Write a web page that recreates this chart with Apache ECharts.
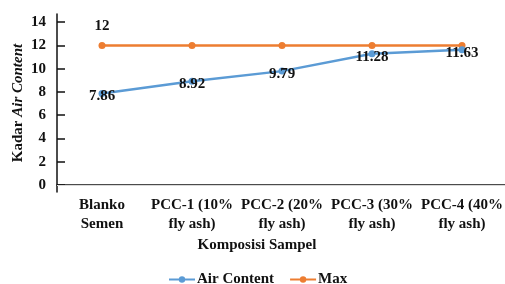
<!DOCTYPE html>
<html>
<head>
<meta charset="utf-8">
<script src="https://cdn.jsdelivr.net/npm/echarts@6/dist/echarts.min.js"></script>
<style>
html, body { margin: 0; padding: 0; background: #fff; }
#chart { width: 505px; height: 284px; }
</style>
</head>
<body>
<div id="chart"></div>
<script>
// data
var categories = ["Blanko\nSemen", "PCC-1 (10%\nfly ash)", "PCC-2 (20%\nfly ash)", "PCC-3 (30%\nfly ash)", "PCC-4 (40%\nfly ash)"];
var airContent = [7.86, 8.92, 9.79, 11.28, 11.63];
var maxValues = [12, 12, 12, 12, 12];
var yTicks = [0, 2, 4, 6, 8, 10, 12, 14];

var font = "Liberation Serif";
var blue = "#5B9BD5";
var orange = "#ED7D31";

var myChart = echarts.init(document.getElementById("chart"));

// only the first Max point carries a label
var maxData = maxValues.map(function (v, i) {
    if (i === 0) {
        return { value: v, label: { show: true } };
    }
    return v;
});

myChart.setOption({
    animation: false,
    textStyle: { fontFamily: font },
    grid: {
        left: 57,
        right: -2,
        top: 14,
        bottom: 92,
        outerBoundsMode: "none",
        containLabel: false
    },
    legend: {
        top: 272,
        left: 168,
        padding: 0,
        itemWidth: 26,
        itemHeight: 8,
        itemGap: 15,
        textStyle: { fontFamily: font, fontWeight: "bold", fontSize: 15, color: "#111", padding: [0, 0, 0, -3] },
        data: ["Air Content", "Max"]
    },
    xAxis: {
        type: "category",
        data: categories,
        name: "Komposisi Sampel",
        nameLocation: "middle",
        nameGap: 46,
        nameMoveOverlap: false,
        nameTextStyle: { fontFamily: font, fontWeight: "bold", fontSize: 15, color: "#111", padding: [0, 50, 0, 0] },
        axisLine: { lineStyle: { color: "#111", width: 1.5 } },
        axisTick: { alignWithLabel: true, inside: true, length: 8, lineStyle: { color: "#111", width: 1.5 } },
        axisLabel: { interval: 0, fontFamily: font, fontWeight: "bold", fontSize: 15, color: "#111", lineHeight: 19, margin: 4 }
    },
    yAxis: {
        type: "value",
        min: -0.6,
        max: 14.7,
        name: "Kadar {i|Air Content}",
        nameLocation: "middle",
        nameGap: 31,
        nameMoveOverlap: false,
        nameTextStyle: {
            fontFamily: font, fontWeight: "bold", fontSize: 15, color: "#111",
            rich: { i: { fontFamily: font, fontWeight: "bold", fontStyle: "italic", fontSize: 15, color: "#111" } }
        },
        axisLine: { show: true, lineStyle: { color: "#111", width: 1.5 } },
        axisTick: { show: true, inside: true, length: 8, customValues: yTicks, lineStyle: { color: "#111", width: 1.5 } },
        axisLabel: { customValues: yTicks, fontFamily: font, fontWeight: "bold", fontSize: 15, color: "#111", margin: 11 },
        splitLine: { show: false }
    },
    series: [
        {
            name: "Air Content",
            type: "line",
            data: airContent,
            symbol: "circle",
            symbolSize: 7,
            itemStyle: { color: blue },
            lineStyle: { color: blue, width: 2.5 },
            label: {
                show: true,
                position: "inside",
                offset: [0, 3],
                fontFamily: font, fontWeight: "bold", fontSize: 15, color: "#111"
            },
            markLine: {
                silent: true,
                symbol: "none",
                label: { show: false },
                lineStyle: { color: "#d9d9d9", type: "solid", width: 1 },
                data: [{ yAxis: 0 }]
            },
            z: 3
        },
        {
            name: "Max",
            type: "line",
            data: maxData,
            symbol: "circle",
            symbolSize: 7,
            itemStyle: { color: orange },
            lineStyle: { color: orange, width: 2.5 },
            label: {
                show: false,
                position: "top",
                distance: 8,
                fontFamily: font, fontWeight: "bold", fontSize: 15, color: "#111"
            },
            z: 2
        }
    ]
});
</script>
</body>
</html>
